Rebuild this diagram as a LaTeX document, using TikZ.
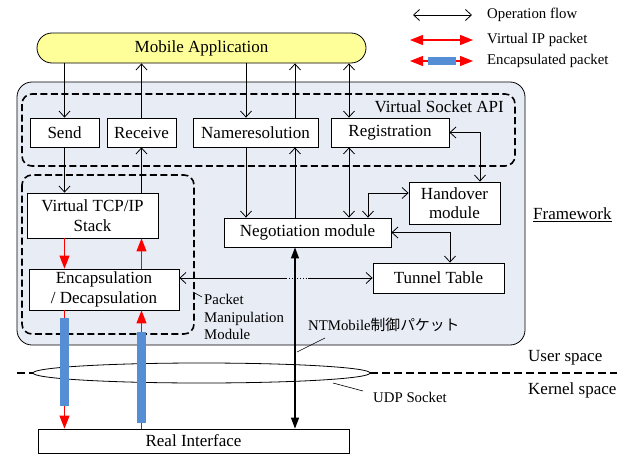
\documentclass[tikz,border=0pt]{standalone}
\usepackage{fontspec}
\setmainfont{Liberation Serif}
\newfontfamily\jpfont{Noto Sans CJK JP}
\usetikzlibrary{arrows.meta}
\definecolor{appyellow}{RGB}{255,255,153}
\definecolor{fwfill}{RGB}{232,237,245}
\definecolor{pktblue}{RGB}{85,142,213}
\newcommand\mainsz{\fontsize{17}{19.5}\selectfont}
\newcommand\smallsz{\fontsize{14.8}{17.5}\selectfont}
\tikzset{
  bh/.tip={Straight Barb[length=6pt,width=11pt]},
  rh/.tip={Triangle[length=13pt,width=10pt]},
  kh/.tip={Triangle[length=11pt,width=8pt]},
  box/.style={draw=black, fill=white, line width=0.8pt, inner sep=0pt, font=\mainsz, align=center},
  opl/.style={draw=black, line width=0.8pt},
  redl/.style={draw=red, line width=1.1pt},
  dbox/.style={draw=black, line width=1.6pt, dash pattern=on 7pt off 3.5pt, rounded corners=10pt},
  lbl/.style={inner sep=0pt, font=\smallsz},
  biglbl/.style={inner sep=0pt, font=\mainsz},
}
\begin{document}
\begin{tikzpicture}[x=1pt,y=-1pt]
\useasboundingbox (0,0) rectangle (629,455);

% framework background
\draw[fill=fwfill, line width=0.8pt, rounded corners=15pt] (17,82) rectangle (525,345);
\draw[dbox] (22,94) rectangle (515,166);
\draw[dbox] (22,175) rectangle (194,334);

% nodes
\node[box, minimum width=329pt, minimum height=30pt, rounded corners=15pt, fill=appyellow] (app) at (201.5,48) {\raisebox{-1.5pt}{Mobile Application}};
\node[box, minimum width=69pt, minimum height=29pt] (send) at (64.5,132.5) {Send};
\node[box, minimum width=69pt, minimum height=29pt] (receive) at (141.5,132.5) {Receive};
\node[box, minimum width=125pt, minimum height=29pt] (nameres) at (255.5,132.5) {Nameresolution};
\node[box, minimum width=118pt, minimum height=29pt] (reg) at (390,132.5) {\raisebox{-1.5pt}{Registration}};
\node[box, minimum width=131pt, minimum height=45pt] (vtcp) at (92.5,215.5) {Virtual TCP/IP\\Stack};
\node[box, minimum width=150pt, minimum height=41pt] (encap) at (104,289.5) {Encapsulation\\/ Decapsulation};
\node[box, minimum width=167pt, minimum height=29pt] (nego) at (307.5,232.5) {\raisebox{-1.5pt}{Negotiation module}};
\node[box, minimum width=91pt, minimum height=42pt] (hand) at (454.5,203) {Handover\\module};
\node[box, minimum width=131pt, minimum height=30pt] (tun) at (438.5,278) {Tunnel Table};
\node[box, minimum width=311pt, minimum height=24pt] (real) at (193.5,441) {Real Interface};

% labels
\node[biglbl, anchor=east] (vsapi) at (504,107) {Virtual Socket API};
\node[biglbl, anchor=west] (fw) at (533,215) {\underline{Framework}};
\node[biglbl, anchor=west] (us) at (528,358) {User space};
\node[biglbl, anchor=west] (ks) at (528,390) {Kernel space};
\node[lbl, anchor=west, align=left] (pmm) at (204,317) {Packet\\Manipulation\\Module};
\node[lbl, anchor=west] (ntm) at (308,325) {NTMobile{\jpfont 制御パケット}};
\node[lbl, anchor=west] (udp) at (373,397) {UDP Socket};

% helper coordinates
\coordinate (xn) at (246,0);
\coordinate (xm) at (295,0);
\coordinate (xr) at (349,0);
\coordinate (xh) at (480,0);
\coordinate (xg) at (368,0);
\coordinate (xt) at (450,0);
\coordinate (yh) at (0,193);
\coordinate (d1) at (286,278);
\coordinate (d2) at (309,278);

% user/kernel boundary
\coordinate (b1) at (17,373);
\coordinate (b2) at (33,373);
\coordinate (b3) at (370,373);
\coordinate (b4) at (617,373);
\draw[line width=1.6pt, dash pattern=on 8pt off 4pt] (b1) -- (b2);
\draw[line width=1.6pt, dash pattern=on 8pt off 4pt] (b3) -- (b4);
\draw[line width=0.8pt] (201.5,373) ellipse [x radius=168.5pt, y radius=10pt];

% annotation lines
\coordinate (p1) at (193,292); \coordinate (p2) at (202,297);
\coordinate (n1) at (325,338); \coordinate (n2) at (297,352);
\coordinate (u1) at (333,383); \coordinate (u2) at (363,391);
\draw[line width=0.6pt] (p1) -- (p2);
\draw[line width=0.6pt] (n1) -- (n2);
\draw[line width=0.6pt] (u1) -- (u2);

% operation flow arrows
\draw[opl,-bh] (app.south -| send.north) -- (send.north);
\draw[opl,-bh] (receive.north) -- (receive.north |- app.south);
\draw[opl,-bh] (xn |- app.south) -- (xn |- nameres.north);
\draw[opl,-bh] (xm |- nameres.north) -- (xm |- app.south);
\draw[opl,bh-bh] (xr |- app.south) -- (xr |- reg.north);
\draw[opl,-bh] (xn |- nameres.south) -- (xn |- nego.north);
\draw[opl,-bh] (xm |- nego.north) -- (xm |- nameres.south);
\draw[opl,bh-bh] (xr |- reg.south) -- (xr |- nego.north);
\draw[opl,bh-bh] (reg.east) -| (xh |- hand.north);
\draw[opl,bh-bh] (hand.west |- yh) -| (xg |- nego.north);
\draw[opl,bh-bh] (nego.east) -| (xt |- tun.north);
\draw[opl,bh-] (encap.east |- tun.west) -- (d1);
\draw[opl, dash pattern=on 1.2pt off 1.6pt] (d1) -- (d2);
\draw[opl,-bh] (d2) -- (tun.west);
\draw[opl,-bh] (send.south) -- (send.south |- vtcp.north);
\draw[opl,-bh] (receive.south |- vtcp.north) -- (receive.south);
\draw[draw=black, line width=1.3pt, kh-kh] (xm |- nego.south) -- (xm |- real.north);

% virtual IP packets
\draw[redl,-rh] (send.south |- vtcp.south) -- (send.south |- encap.north);
\draw[redl,-rh] (receive.south |- encap.north) -- (receive.south |- vtcp.south);
\draw[redl,-rh] (send.south |- encap.south) -- (send.south |- real.north);
\draw[redl,-rh] (receive.south |- real.north) -- (receive.south |- encap.south);
\fill[pktblue] (60,318) rectangle (69,406);
\fill[pktblue] (137,332) rectangle (146,423);

% legend
\coordinate (l1a) at (413,15); \coordinate (l1b) at (472,15);
\coordinate (l2a) at (410,40); \coordinate (l2b) at (473,40);
\coordinate (l3a) at (410,61); \coordinate (l3b) at (473,61);
\draw[opl,bh-bh] (l1a) -- (l1b);
\draw[redl,rh-rh] (l2a) -- (l2b);
\draw[redl,rh-rh] (l3a) -- (l3b);
\fill[pktblue] (428,57) rectangle (456,65);
\node[lbl, anchor=west] (lg1) at (487,15) {Operation flow};
\node[lbl, anchor=west] (lg2) at (487,40) {Virtual IP packet};
\node[lbl, anchor=west] (lg3) at (487,61) {Encapsulated packet};
\end{tikzpicture}
\end{document}
